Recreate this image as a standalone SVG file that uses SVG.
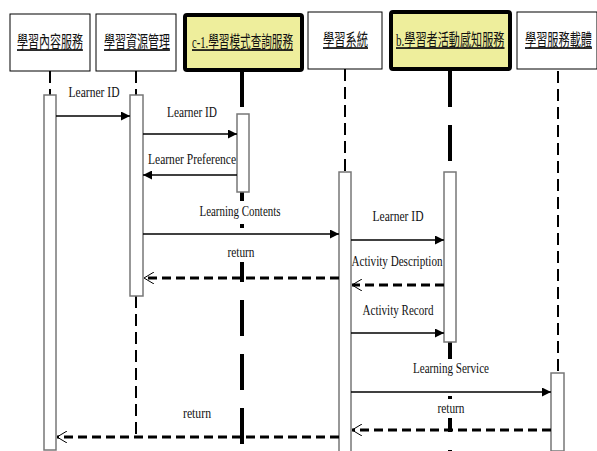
<svg xmlns="http://www.w3.org/2000/svg" width="597" height="451" viewBox="0 0 597 451">
<style>
.hbox{fill:#fff;stroke:#000;stroke-width:1}
.hy{fill:#eeee9c;stroke:#000;stroke-width:4}
.ht{font-family:"Liberation Serif","Noto Sans CJK TC",serif;font-size:17px;text-decoration:underline;fill:#111}
.ll{stroke:#000;stroke-width:2;fill:none;stroke-dasharray:12 6}
.llt{stroke:#000;stroke-width:4;fill:none;stroke-dasharray:36 18}
.act{fill:#fff;stroke:#777;stroke-width:1.5}
.msg{stroke:#000;stroke-width:1.3;fill:none}
.ret{stroke:#000;stroke-width:3;fill:none;stroke-dasharray:9 5}
.lb{font-family:"Liberation Serif",serif;font-size:15px;fill:#111;text-anchor:middle}
.bg{fill:#fff}
</style>
<defs>
<marker id="fa" viewBox="0 0 9 9" refX="9" refY="4.5" markerWidth="9" markerHeight="9" markerUnits="userSpaceOnUse" orient="auto">
<path d="M0,0 L9,4.5 L0,9 z" fill="#000"/>
</marker>
<marker id="oa" viewBox="0 0 10 12" refX="10" refY="6" markerWidth="10" markerHeight="12" markerUnits="userSpaceOnUse" orient="auto">
<path d="M0,0 L10,6 L0,12" fill="none" stroke="#000" stroke-width="1"/>
</marker>
</defs>
<rect width="597" height="451" fill="#fff"/>

<g id="lifelines">
<line class="ll" x1="50" y1="71" x2="50" y2="95" stroke-dasharray="3 3"/>
<line class="ll" x1="136" y1="71" x2="136" y2="95" stroke-dasharray="3 3"/>
<line class="ll" x1="136" y1="296" x2="136" y2="437" stroke-dasharray="15 7"/>
<line class="llt" x1="242" y1="71" x2="242" y2="114" stroke-dasharray="20 17 3 10"/>
<line class="llt" x1="242" y1="192" x2="242" y2="451" stroke-dasharray="8 26 14 30 20 37 20 37 20 37 20"/>
<line class="ll" x1="345" y1="69" x2="345" y2="172" stroke-dasharray="9 5"/>
<line class="llt" x1="450" y1="71" x2="450" y2="172" stroke-dasharray="33 18 38 12"/>
<line class="llt" x1="450" y1="342" x2="450" y2="451" stroke-dasharray="0 13 2 25 13 25 40"/>
<line class="ll" x1="558" y1="71" x2="558" y2="373" stroke-dasharray="13 7"/>
</g>

<g id="node-1">
<rect class="hbox" x="10" y="14" width="80" height="57"/>
<text class="ht" transform="translate(17,48) scale(0.647,1)">學習內容服務</text>
<rect class="act" x="44" y="95" width="12" height="355"/>
</g>
<g id="node-2">
<rect class="hbox" x="96" y="14" width="80" height="57"/>
<text class="ht" transform="translate(104,48) scale(0.647,1)">學習資源管理</text>
<rect class="act" x="130" y="95" width="13" height="201"/>
</g>
<g id="node-3">
<rect class="hy" x="185" y="15" width="117" height="55" rx="2"/>
<text class="ht" transform="translate(192,48) scale(0.625,1)">c-1.學習模式查詢服務</text>
<rect class="act" x="237" y="114" width="12" height="78"/>
</g>
<g id="node-4">
<rect class="hbox" x="308" y="12" width="74" height="57"/>
<text class="ht" transform="translate(323,46) scale(0.662,1)">學習系統</text>
<rect class="act" x="339" y="172" width="12" height="280"/>
</g>
<g id="node-5">
<rect class="hy" x="391" y="12" width="119" height="57" rx="2"/>
<text class="ht" transform="translate(396,46) scale(0.655,1)">b.學習者活動感知服務</text>
<rect class="act" x="444" y="172" width="12" height="170"/>
</g>
<g id="node-6">
<rect class="hbox" x="517" y="12" width="80" height="57"/>
<text class="ht" transform="translate(525,46) scale(0.657,1)">學習服務載體</text>
<rect class="act" x="551" y="373" width="13" height="78"/>
</g>

<g id="connectors">
<line class="msg" x1="56" y1="116" x2="130" y2="116" marker-end="url(#fa)"/>
<text class="lb" x="94" y="97" textLength="51" lengthAdjust="spacingAndGlyphs">Learner ID</text>

<line class="msg" x1="143" y1="134" x2="237" y2="134" marker-end="url(#fa)"/>
<text class="lb" x="192" y="117" textLength="50" lengthAdjust="spacingAndGlyphs">Learner ID</text>

<line class="msg" x1="237" y1="175" x2="143" y2="175" marker-end="url(#fa)"/>
<text class="lb" x="192" y="164" textLength="88" lengthAdjust="spacingAndGlyphs">Learner Preference</text>

<rect class="bg" x="200" y="201" width="82" height="23"/>
<line class="msg" x1="143" y1="234" x2="339" y2="234" marker-end="url(#fa)"/>
<text class="lb" x="240" y="216" textLength="81" lengthAdjust="spacingAndGlyphs">Learning Contents</text>

<rect class="bg" x="226" y="242" width="31" height="20"/>
<line class="ret" x1="339" y1="278" x2="144" y2="278" marker-end="url(#oa)"/>
<text class="lb" x="241" y="257" textLength="27" lengthAdjust="spacingAndGlyphs">return</text>

<line class="msg" x1="351" y1="240" x2="444" y2="240" marker-end="url(#fa)"/>
<text class="lb" x="398" y="221" textLength="51" lengthAdjust="spacingAndGlyphs">Learner ID</text>

<line class="ret" x1="444" y1="285" x2="352" y2="285" marker-end="url(#oa)"/>
<text class="lb" x="397" y="266" textLength="91" lengthAdjust="spacingAndGlyphs">Activity Description</text>

<line class="msg" x1="351" y1="333" x2="444" y2="333" marker-end="url(#fa)"/>
<text class="lb" x="398" y="315" textLength="71" lengthAdjust="spacingAndGlyphs">Activity Record</text>

<rect class="bg" x="412" y="359" width="78" height="19"/>
<line class="msg" x1="351" y1="392" x2="551" y2="392" marker-end="url(#fa)"/>
<text class="lb" x="451" y="373" textLength="76" lengthAdjust="spacingAndGlyphs">Learning Service</text>

<rect class="bg" x="436" y="399" width="31" height="19"/>
<line class="ret" x1="551" y1="430" x2="352" y2="430" marker-end="url(#oa)"/>
<text class="lb" x="451" y="413" textLength="27" lengthAdjust="spacingAndGlyphs">return</text>

<line class="ret" x1="339" y1="437" x2="57" y2="437" marker-end="url(#oa)"/>
<text class="lb" x="197" y="418" textLength="28" lengthAdjust="spacingAndGlyphs">return</text>
</g>
</svg>
